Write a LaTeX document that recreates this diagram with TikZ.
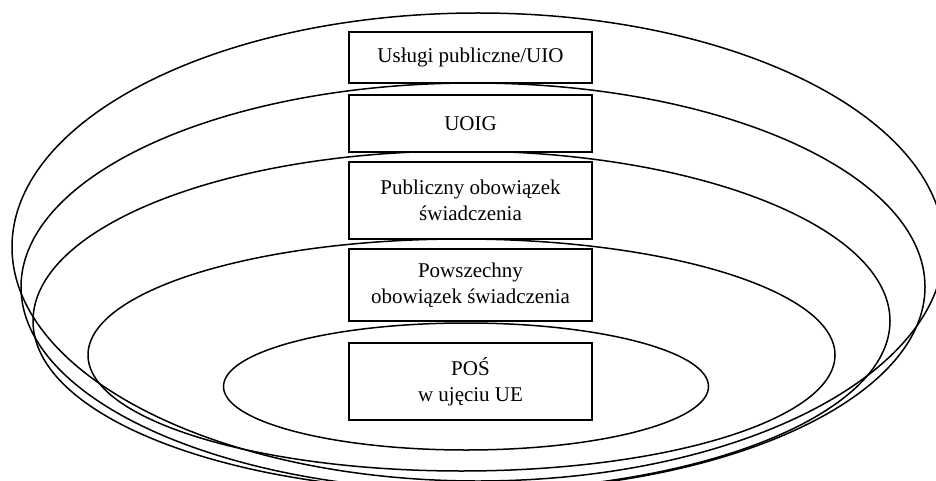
\documentclass[tikz,border=0pt]{standalone}
\usepackage{fontspec}
\setmainfont{Liberation Serif}

\begin{document}
\begin{tikzpicture}[x=1pt,y=-1pt,
  ring/.style={line width=1.5pt},
  level/.style={draw,line width=1.5pt,fill=white,minimum width=243pt,
    inner sep=0pt,align=center,font=\fontsize{21}{26}\selectfont}]
  \useasboundingbox (0,0) rectangle (936,481);
  \clip (0,0) rectangle (936,481);
  \draw[ring] (478,247) ellipse [x radius=466pt,y radius=234pt];
  \draw[ring] (473,287) ellipse [x radius=452pt,y radius=204pt];
  \draw[ring] (461.5,321) ellipse [x radius=428.5pt,y radius=170pt];
  \draw[ring] (461.5,355) ellipse [x radius=373.5pt,y radius=116pt];
  \draw[ring] (466,386.5) ellipse [x radius=242.5pt,y radius=63.5pt];
  \node[level,minimum height=51pt] (uio) at (470.5,57.5) {Usługi publiczne/UIO};
  \node[level,minimum height=57pt] (uoig) at (470.5,123.5) {UOIG};
  \node[level,minimum height=77pt] (pub) at (470.5,200.5) {Publiczny obowiązek\\świadczenia};
  \node[level,minimum height=72pt] (pow) at (470.5,285) {Powszechny\\obowiązek świadczenia};
  \node[level,minimum height=77pt] (pos) at (470.5,381.5) {POŚ\\w ujęciu UE};
\end{tikzpicture}
\end{document}
